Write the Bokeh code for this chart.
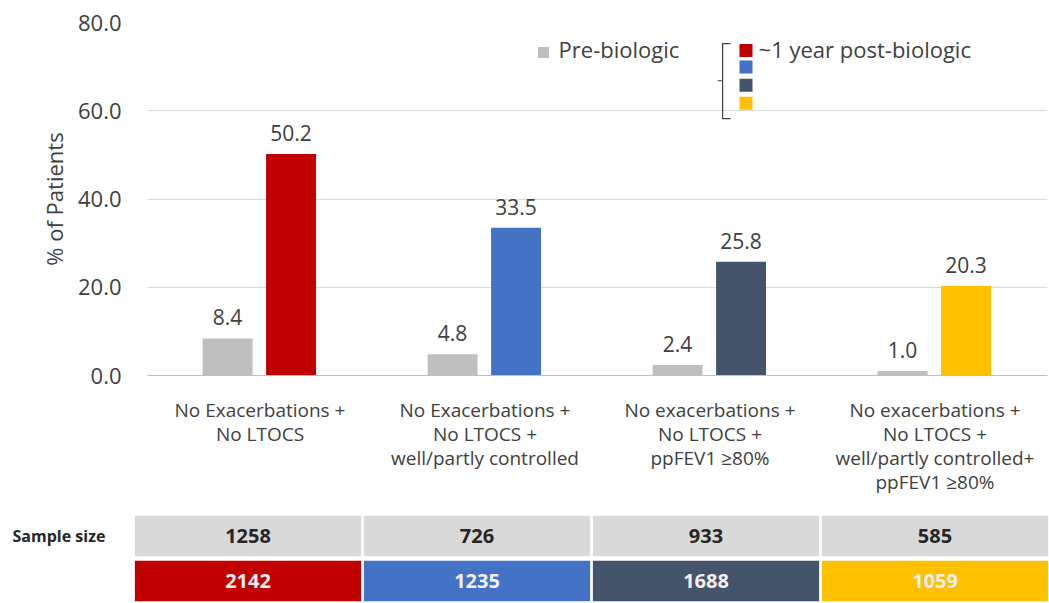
from bokeh.plotting import figure
from bokeh.models import FactorRange, Range1d, FixedTicker, ColumnDataSource, NumeralTickFormatter
from bokeh.transform import dodge
from bokeh.layouts import column
from bokeh.embed import file_html
from bokeh.resources import INLINE
from bokeh.core.properties import value

# ---------------- data ----------------
categories = [
    "No Exacerbations +\nNo LTOCS",
    "No Exacerbations +\nNo LTOCS +\nwell/partly controlled",
    "No exacerbations +\nNo LTOCS +\nppFEV1 \u226580%",
    "No exacerbations +\nNo LTOCS +\nwell/partly controlled+\nppFEV1 \u226580%",
]
pre_biologic = [8.4, 4.8, 2.4, 1.0]
post_biologic = [50.2, 33.5, 25.8, 20.3]
post_colors = ["#C00000", "#4472C4", "#44546A", "#FFC000"]
sample_pre = [1258, 726, 933, 585]
sample_post = [2142, 1235, 1688, 1059]
y_ticks = [0, 20, 40, 60, 80]
legend_pre = "Pre-biologic"
legend_post = "~1 year post-biologic"
table_label = "Sample size"

FONT = value("Open Sans")
TXT = "#404040"
PRE_COLOR = "#BFBFBF"

src = ColumnDataSource(dict(
    cat=categories,
    pre=pre_biologic,
    post=post_biologic,
    color=post_colors,
    pre_lbl=[f"{v:.1f}" for v in pre_biologic],
    post_lbl=[f"{v:.1f}" for v in post_biologic],
))

# ---------------- chart ----------------
p = figure(
    x_range=FactorRange(*categories), y_range=Range1d(0, 80),
    width=1049, height=513, output_backend="svg", toolbar_location=None,
    min_border_left=147, min_border_right=2, min_border_top=22, min_border_bottom=138,
)
p.frame_align = False
p.outline_line_color = None
p.xgrid.grid_line_color = None
p.ygrid.ticker = FixedTicker(ticks=y_ticks)
p.ygrid.grid_line_color = "#D9D9D9"

p.vbar(x=dodge("cat", -0.144, range=p.x_range), top="pre", width=0.222,
       source=src, fill_color=PRE_COLOR, line_color=None)
p.vbar(x=dodge("cat", 0.138, range=p.x_range), top="post", width=0.222,
       source=src, fill_color="color", line_color=None)

p.text(x=dodge("cat", -0.144, range=p.x_range), y="pre", text="pre_lbl", source=src,
       text_align="center", text_baseline="bottom", y_offset=-13,
       text_font=FONT, text_font_size="21px", text_color=TXT)
p.text(x=dodge("cat", 0.138, range=p.x_range), y="post", text="post_lbl", source=src,
       text_align="center", text_baseline="bottom", y_offset=-13,
       text_font=FONT, text_font_size="21px", text_color=TXT)

# axes
p.yaxis.ticker = FixedTicker(ticks=y_ticks)
p.yaxis.formatter = NumeralTickFormatter(format="0.0")
p.yaxis.axis_line_color = None
p.yaxis.major_tick_line_color = None
p.yaxis.minor_tick_line_color = None
p.yaxis.major_label_standoff = 20
p.yaxis.major_label_text_font = "Open Sans"
p.yaxis.major_label_text_font_size = "22px"
p.yaxis.major_label_text_color = TXT
p.yaxis.axis_label = "% of Patients"
p.yaxis.axis_label_text_font = "Open Sans"
p.yaxis.axis_label_text_font_size = "22px"
p.yaxis.axis_label_text_font_style = "normal"
p.yaxis.axis_label_text_color = TXT
p.yaxis.axis_label_standoff = 6

p.xaxis.axis_line_color = "#BFBFBF"
p.xaxis.major_tick_line_color = None
p.xaxis.minor_tick_line_color = None
p.xaxis.major_label_standoff = 15
p.xaxis.major_label_text_font = "Open Sans"
p.xaxis.major_label_text_font_size = "19px"
p.xaxis.major_label_text_line_height = 0.93
p.xaxis.major_label_text_color = TXT

# legend (custom, drawn in synthetic categorical coordinates)
p.scatter(x=[1.76], y=[73.2], marker="square", size=11, fill_color=PRE_COLOR, line_color=None)
p.text(x=[1.827], y=[73.9], text=[legend_pre], text_baseline="middle",
       text_font=FONT, text_font_size="22px", text_color=TXT)
p.line(x=[2.591, 2.556, 2.556, 2.591], y=[75.2, 75.2, 58.2, 58.2], line_color=TXT, line_width=1.2)
p.line(x=[2.556, 2.534], y=[66.8, 66.8], line_color=TXT, line_width=1.2)
p.scatter(x=[2.66] * 4, y=[73.65, 69.9, 65.8, 61.7], marker="square", size=13,
          fill_color=post_colors, line_color=None)
p.text(x=[2.716], y=[73.9], text=[legend_post], text_baseline="middle",
       text_font=FONT, text_font_size="22px", text_color=TXT)

# ---------------- table ----------------
TABLE_LEFT = 133
col_w = (1049 - TABLE_LEFT) / len(categories)
col_x = [i + 0.5 for i in range(len(categories))]
t = figure(
    x_range=Range1d(-TABLE_LEFT / col_w, len(categories)), y_range=Range1d(0, 2),
    width=1049, height=90, output_backend="svg", toolbar_location=None,
    min_border_left=0, min_border_right=0, min_border_top=0, min_border_bottom=0,
)
t.frame_align = False
t.outline_line_color = None
t.grid.grid_line_color = None
t.axis.visible = False

t.rect(x=col_x, y=[1.5] * 4, width=0.988, height=0.9,
       fill_color="#D9D9D9", line_color=None)
t.rect(x=col_x, y=[0.5] * 4, width=0.988, height=0.9,
       fill_color=post_colors, line_color=None)
t.text(x=col_x, y=[1.5] * 4, text=[str(n) for n in sample_pre],
       text_align="center", text_baseline="middle", text_font=FONT,
       text_font_style="bold", text_font_size="20px", text_color="#262626")
t.text(x=col_x, y=[0.5] * 4, text=[str(n) for n in sample_post],
       text_align="center", text_baseline="middle", text_font=FONT,
       text_font_style="bold", text_font_size="20px", text_color="#F4EEEE")
t.text(x=[-(TABLE_LEFT - 12) / col_w], y=[1.5], text=[table_label],
       text_align="left", text_baseline="middle", text_font=FONT,
       text_font_style="bold", text_font_size="16px", text_color="#262626")

layout = column(p, t, spacing=0)
open("out.html", "w").write(file_html(layout, INLINE))
